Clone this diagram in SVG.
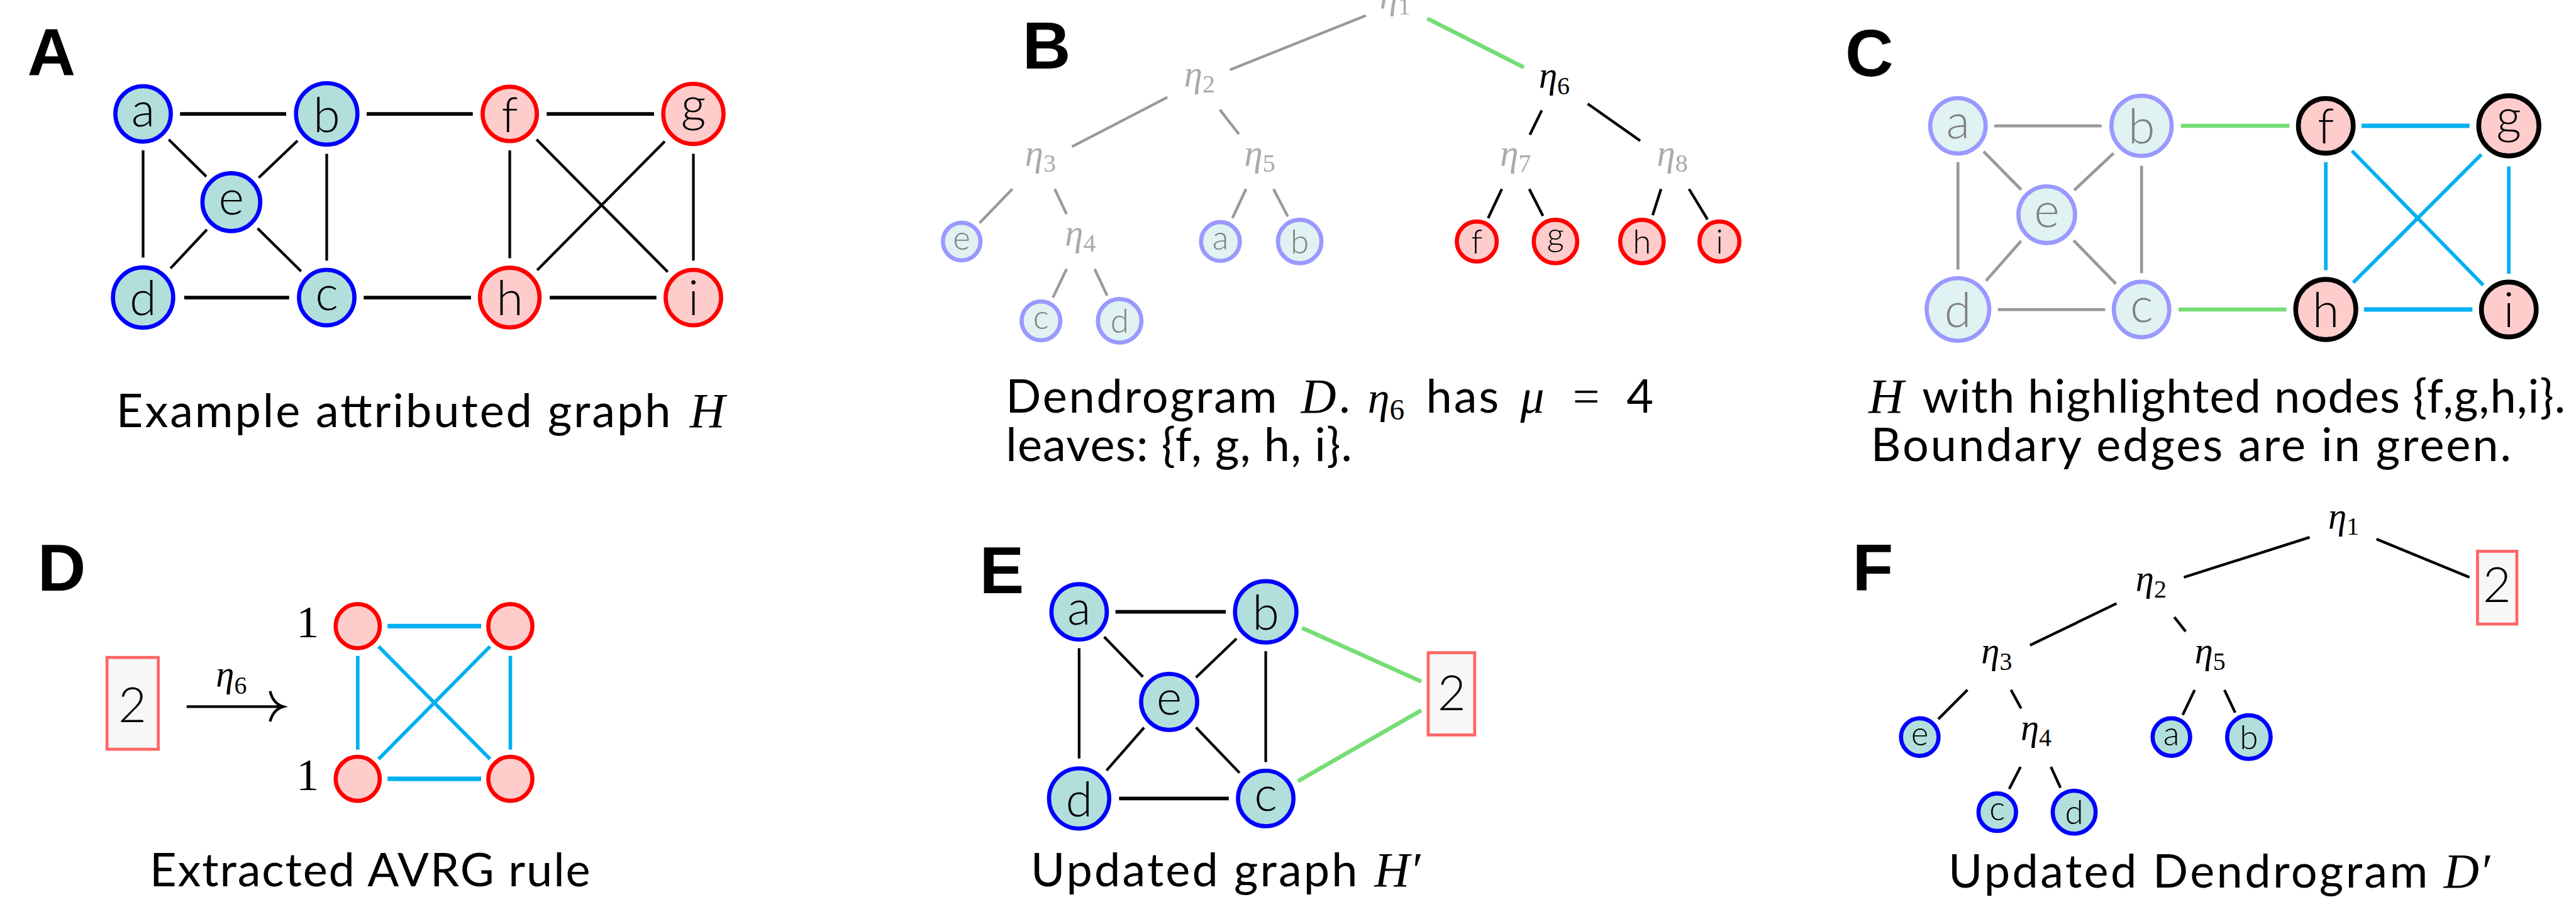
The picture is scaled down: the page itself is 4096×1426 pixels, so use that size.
<svg xmlns="http://www.w3.org/2000/svg" width="4096" height="1426" viewBox="0 0 4096 1426">
<style>
  .lbl{font-family:"Liberation Sans",Arial,sans-serif;font-weight:bold;font-size:112px;fill:#000}
  .cap{font-family:Lato,"Liberation Sans",sans-serif;font-size:78px;fill:#000}
  .mi{font-family:"Liberation Serif","Times New Roman",serif;font-style:italic;fill:#000}
  .mr{font-family:"Liberation Serif","Times New Roman",serif;font-style:normal}
  .nl{font-family:Lato,"Liberation Sans",sans-serif;font-weight:300;font-size:82px;text-anchor:middle;fill:#000}
  .sl{font-family:Lato,"Liberation Sans",sans-serif;font-weight:300;font-size:56px;text-anchor:middle;fill:#000}
  .gt{fill:#808080}
  .eta{font-family:"Liberation Serif","Times New Roman",serif;font-style:italic;font-size:62px;text-anchor:middle;fill:#000}
  .etag{fill:#aaaaaa}
  .nb{fill:#b2dfdb;stroke:#0000ff;stroke-width:7}
  .nr{fill:#ffcccc;stroke:#ff0000;stroke-width:7}
  .nlb{fill:#e0f2f1;stroke:#9999ff;stroke-width:7}
  .nk{fill:#ffcccc;stroke:#000;stroke-width:8}
  .box{fill:#f7f7f7;stroke:#ff6666;stroke-width:5}
  line{fill:none;stroke-linecap:butt}
  .k{stroke:#000;stroke-width:4.5}
  .kh{stroke:#000;stroke-width:6}
  .g{stroke:#999;stroke-width:4.5}
  .gh{stroke:#999;stroke-width:5}
  .gn{stroke:#77dd77;stroke-width:7}
  .bh{stroke:#00b0f0;stroke-width:7.5}
  .bv{stroke:#00b0f0;stroke-width:6}
</style>
<rect width="4096" height="1426" fill="#fff"/>
<g transform="scale(0.948)">

<!-- ===== Panel A: attributed graph H ===== -->
<text class="lbl" x="46" y="127">A</text>
<g id="A-edges">
  <line class="kh" x1="302" y1="191" x2="480" y2="191"/>
  <line class="kh" x1="615" y1="191" x2="793" y2="191"/>
  <line class="kh" x1="917" y1="191" x2="1097" y2="191"/>
  <line class="kh" x1="309" y1="499" x2="485" y2="499"/>
  <line class="kh" x1="610" y1="499" x2="790" y2="499"/>
  <line class="kh" x1="922" y1="499" x2="1101" y2="499"/>
  <line class="k" x1="240" y1="252" x2="240" y2="432"/>
  <line class="k" x1="548" y1="258" x2="548" y2="437"/>
  <line class="k" x1="855" y1="252" x2="855" y2="433"/>
  <line class="k" x1="1163" y1="258" x2="1163" y2="437"/>
  <line class="k" x1="283" y1="234" x2="346" y2="296"/>
  <line class="k" x1="499" y1="236" x2="434" y2="298"/>
  <line class="k" x1="347" y1="385" x2="286" y2="450"/>
  <line class="k" x1="432" y1="383" x2="505" y2="455"/>
  <line class="k" x1="900" y1="234" x2="1120" y2="456"/>
  <line class="k" x1="1115" y1="237" x2="901" y2="453"/>
</g>
<g id="A-a"><circle class="nb" cx="240" cy="191" r="46.5"/><text class="nl" x="240" y="212">a</text></g>
<g id="A-b"><circle class="nb" cx="548" cy="191" r="51.5"/><text class="nl" x="548" y="221">b</text></g>
<g id="A-f"><circle class="nr" cx="855" cy="191" r="45.5"/><text class="nl" x="855" y="221">f</text></g>
<g id="A-g"><circle class="nr" cx="1163" cy="191" r="50.5"/><text class="nl" x="1163" y="204">g</text></g>
<g id="A-e"><circle class="nb" cx="388" cy="339" r="48.5"/><text class="nl" x="388" y="360">e</text></g>
<g id="A-d"><circle class="nb" cx="240" cy="499" r="50.5"/><text class="nl" x="240" y="529">d</text></g>
<g id="A-c"><circle class="nb" cx="548" cy="499" r="46.5"/><text class="nl" x="548" y="520">c</text></g>
<g id="A-h"><circle class="nr" cx="855" cy="499" r="50"/><text class="nl" x="855" y="529">h</text></g>
<g id="A-i"><circle class="nr" cx="1163" cy="499" r="46.5"/><text class="nl" x="1163" y="529">i</text></g>
<text class="cap" x="195" y="716" textLength="930">Example attributed graph</text>
<text class="mi" x="1157" y="716" font-size="82">H</text>

<!-- ===== Panel B: dendrogram D ===== -->
<text class="lbl" x="1715" y="115">B</text>
<g id="B-edges">
  <line class="g" x1="2291" y1="26" x2="2063" y2="117"/>
  <line class="gn" x1="2394" y1="31" x2="2556" y2="113"/>
  <line class="g" x1="1958" y1="163" x2="1798" y2="246"/>
  <line class="g" x1="2046" y1="184" x2="2078" y2="225"/>
  <line class="k" x1="2586" y1="185" x2="2566" y2="226"/>
  <line class="k" x1="2663" y1="174" x2="2751" y2="236"/>
  <line class="g" x1="1698" y1="317" x2="1643" y2="374"/>
  <line class="g" x1="1769" y1="317" x2="1789" y2="359"/>
  <line class="g" x1="2090" y1="317" x2="2067" y2="366"/>
  <line class="g" x1="2136" y1="317" x2="2160" y2="363"/>
  <line class="k" x1="2519" y1="317" x2="2496" y2="366"/>
  <line class="k" x1="2565" y1="317" x2="2588" y2="362"/>
  <line class="k" x1="2786" y1="317" x2="2772" y2="361"/>
  <line class="k" x1="2833" y1="317" x2="2864" y2="368"/>
  <line class="g" x1="1789" y1="451" x2="1766" y2="499"/>
  <line class="g" x1="1836" y1="451" x2="1857" y2="496"/>
</g>
<g id="B-eta1"><text class="eta etag" x="2340" y="14">η<tspan class="mr" font-size="42" dy="10">1</tspan></text></g>
<g id="B-eta2"><text class="eta etag" x="2012" y="144">η<tspan class="mr" font-size="42" dy="11">2</tspan></text></g>
<g id="B-eta6"><text class="eta" x="2607" y="147">η<tspan class="mr" font-size="42" dy="11">6</tspan></text></g>
<g id="B-eta3"><text class="eta etag" x="1745" y="277">η<tspan class="mr" font-size="42" dy="11">3</tspan></text></g>
<g id="B-eta5"><text class="eta etag" x="2113" y="277">η<tspan class="mr" font-size="42" dy="11">5</tspan></text></g>
<g id="B-eta7"><text class="eta etag" x="2542" y="277">η<tspan class="mr" font-size="42" dy="11">7</tspan></text></g>
<g id="B-eta8"><text class="eta etag" x="2805" y="277">η<tspan class="mr" font-size="42" dy="11">8</tspan></text></g>
<g id="B-eta4"><text class="eta etag" x="1812" y="411">η<tspan class="mr" font-size="42" dy="11">4</tspan></text></g>
<g id="B-e"><circle class="nlb" cx="1613" cy="405" r="31.5"/><text class="sl gt" x="1613" y="419">e</text></g>
<g id="B-a"><circle class="nlb" cx="2047" cy="405" r="32.5"/><text class="sl gt" x="2047" y="419">a</text></g>
<g id="B-b"><circle class="nlb" cx="2180" cy="405" r="36.5"/><text class="sl gt" x="2180" y="425">b</text></g>
<g id="B-f"><circle class="nr" cx="2477" cy="405" r="33.5"/><text class="sl" x="2477" y="425">f</text></g>
<g id="B-g"><circle class="nr" cx="2609" cy="405" r="36.5"/><text class="sl" x="2609" y="414">g</text></g>
<g id="B-h"><circle class="nr" cx="2754" cy="405" r="36.5"/><text class="sl" x="2754" y="425">h</text></g>
<g id="B-i"><circle class="nr" cx="2884" cy="405" r="33.5"/><text class="sl" x="2884" y="425">i</text></g>
<g id="B-c"><circle class="nlb" cx="1746" cy="538" r="32.5"/><text class="sl gt" x="1746" y="552">c</text></g>
<g id="B-d"><circle class="nlb" cx="1878" cy="538" r="36.5"/><text class="sl gt" x="1878" y="558">d</text></g>
<text class="cap" x="1687" y="692" textLength="455">Dendrogram</text>
<text class="mi" x="2182" y="692" font-size="82">D</text>
<text class="cap" x="2246" y="692">.</text>
<text class="mi" x="2294" y="692" font-size="74">η<tspan class="mr" font-size="50" dy="12">6</tspan></text>
<text class="cap" x="2392" y="692" textLength="122">has</text>
<text class="mi" x="2550" y="692" font-size="80">μ</text>
<text class="mr" x="2638" y="692" font-size="80">=</text>
<text class="cap" x="2728" y="692">4</text>
<text class="cap" x="1687" y="773" textLength="581">leaves: {f, g, h, i}.</text>

<!-- ===== Panel C: H with highlighted nodes ===== -->
<text class="lbl" x="3095" y="128">C</text>
<g id="C-edges">
  <line class="gh" x1="3345" y1="211" x2="3525" y2="211"/>
  <line class="gn" x1="3658" y1="211" x2="3840" y2="211"/>
  <line class="bh" x1="3961" y1="211" x2="4142" y2="211"/>
  <line class="gh" x1="3351" y1="519" x2="3531" y2="519"/>
  <line class="gn" x1="3654" y1="519" x2="3835" y2="519"/>
  <line class="bh" x1="3965" y1="519" x2="4147" y2="519"/>
  <line class="gh" x1="3284" y1="272" x2="3284" y2="452"/>
  <line class="gh" x1="3592" y1="278" x2="3592" y2="458"/>
  <line class="bv" x1="3901" y1="272" x2="3901" y2="453"/>
  <line class="bv" x1="4208" y1="279" x2="4208" y2="459"/>
  <line class="gh" x1="3327" y1="254" x2="3390" y2="318"/>
  <line class="gh" x1="3545" y1="257" x2="3479" y2="319"/>
  <line class="gh" x1="3390" y1="404" x2="3331" y2="471"/>
  <line class="gh" x1="3478" y1="403" x2="3549" y2="476"/>
  <line class="bv" x1="3945" y1="253" x2="4165" y2="478"/>
  <line class="bv" x1="4162" y1="259" x2="3947" y2="474"/>
</g>
<g id="C-a"><circle class="nlb" cx="3284" cy="211" r="46.5"/><text class="nl gt" x="3284" y="232">a</text></g>
<g id="C-b"><circle class="nlb" cx="3592" cy="211" r="50.5"/><text class="nl gt" x="3592" y="241">b</text></g>
<g id="C-f"><circle class="nk" cx="3901" cy="211" r="46"/><text class="nl" x="3901" y="241">f</text></g>
<g id="C-g"><circle class="nk" cx="4208" cy="211" r="50.5"/><text class="nl" x="4208" y="224">g</text></g>
<g id="C-e"><circle class="nlb" cx="3433" cy="360" r="47.5"/><text class="nl gt" x="3433" y="381">e</text></g>
<g id="C-d"><circle class="nlb" cx="3284" cy="519" r="52.5"/><text class="nl gt" x="3284" y="549">d</text></g>
<g id="C-c"><circle class="nlb" cx="3592" cy="519" r="46.5"/><text class="nl gt" x="3592" y="540">c</text></g>
<g id="C-h"><circle class="nk" cx="3901" cy="519" r="50.5"/><text class="nl" x="3901" y="549">h</text></g>
<g id="C-i"><circle class="nk" cx="4208" cy="519" r="46"/><text class="nl" x="4208" y="549">i</text></g>
<text class="mi" x="3134" y="692" font-size="82">H</text>
<text class="cap" x="3224" y="692" textLength="1079">with highlighted nodes {f,g,h,i}.</text>
<text class="cap" x="3138" y="773" textLength="1074">Boundary edges are in green.</text>

<!-- ===== Panel D: extracted AVRG rule ===== -->
<text class="lbl" x="63" y="990">D</text>
<g id="D-box"><rect class="box" x="179.5" y="1102.5" width="86" height="154"/><text class="nl" x="222" y="1211" font-size="83">2</text></g>
<g id="D-arrow">
  <line class="k" x1="313" y1="1185" x2="472" y2="1185" stroke-width="5"/>
  <path d="M453,1159 Q458,1180 475,1185 Q458,1190 453,1210" fill="none" stroke="#000" stroke-width="4.5"/>
  <text class="eta" x="388" y="1151">η<tspan class="mr" font-size="42" dy="12">6</tspan></text>
</g>
<g id="D-edges">
  <line class="bh" x1="650" y1="1050" x2="807" y2="1050"/>
  <line class="bh" x1="650" y1="1306" x2="807" y2="1306"/>
  <line class="bv" x1="600" y1="1100" x2="600" y2="1257"/>
  <line class="bv" x1="856" y1="1100" x2="856" y2="1257"/>
  <line class="bv" x1="635" y1="1084" x2="822" y2="1273"/>
  <line class="bv" x1="822" y1="1084" x2="635" y2="1273"/>
</g>
<g id="D-n1"><circle class="nr" cx="600" cy="1050" r="37" stroke-width="8"/><text class="mr" x="516" y="1069" font-size="76" text-anchor="middle">1</text></g>
<g id="D-n2"><circle class="nr" cx="856" cy="1050" r="37" stroke-width="8"/></g>
<g id="D-n3"><circle class="nr" cx="600" cy="1306" r="37" stroke-width="8"/><text class="mr" x="516" y="1325" font-size="76" text-anchor="middle">1</text></g>
<g id="D-n4"><circle class="nr" cx="856" cy="1306" r="37" stroke-width="8"/></g>
<text class="cap" x="251" y="1486" textLength="739">Extracted AVRG rule</text>

<!-- ===== Panel E: updated graph H' ===== -->
<text class="lbl" x="1643" y="995">E</text>
<g id="E-edges">
  <line class="kh" x1="1871" y1="1026" x2="2056" y2="1026"/>
  <line class="kh" x1="1877" y1="1339" x2="2061" y2="1339"/>
  <line class="k" x1="1810" y1="1087" x2="1810" y2="1272"/>
  <line class="k" x1="2123" y1="1092" x2="2123" y2="1278"/>
  <line class="k" x1="1852" y1="1068" x2="1917" y2="1135"/>
  <line class="k" x1="2074" y1="1071" x2="2006" y2="1136"/>
  <line class="k" x1="1919" y1="1220" x2="1856" y2="1292"/>
  <line class="k" x1="2006" y1="1220" x2="2079" y2="1296"/>
  <line class="gn" x1="2184" y1="1053" x2="2384" y2="1143" stroke-width="6"/>
  <line class="gn" x1="2177" y1="1310" x2="2384" y2="1191" stroke-width="6"/>
</g>
<g id="E-a"><circle class="nb" cx="1810" cy="1026" r="46.5"/><text class="nl" x="1810" y="1047">a</text></g>
<g id="E-b"><circle class="nb" cx="2123" cy="1026" r="51.5"/><text class="nl" x="2123" y="1056">b</text></g>
<g id="E-e"><circle class="nb" cx="1961" cy="1177" r="47"/><text class="nl" x="1961" y="1198">e</text></g>
<g id="E-d"><circle class="nb" cx="1810" cy="1339" r="50.5"/><text class="nl" x="1810" y="1369">d</text></g>
<g id="E-c"><circle class="nb" cx="2123" cy="1339" r="46.5"/><text class="nl" x="2123" y="1360">c</text></g>
<g id="E-box"><rect class="box" x="2395.5" y="1094.5" width="78" height="138"/><text class="nl" x="2435" y="1191" font-size="75">2</text></g>
<text class="cap" x="1729" y="1486" textLength="548">Updated graph</text>
<text class="mi" x="2305" y="1486" font-size="82">H′</text>

<!-- ===== Panel F: updated dendrogram D' ===== -->
<text class="lbl" x="3107" y="990">F</text>
<g id="F-edges">
  <line class="k" x1="3874" y1="901" x2="3663" y2="968" stroke-width="5"/>
  <line class="k" x1="3986" y1="904" x2="4142" y2="968" stroke-width="5"/>
  <line class="k" x1="3550" y1="1012" x2="3405" y2="1082" stroke-width="5"/>
  <line class="k" x1="3647" y1="1035" x2="3666" y2="1059" stroke-width="5"/>
  <line class="k" x1="3300" y1="1157" x2="3251" y2="1206" stroke-width="5"/>
  <line class="k" x1="3373" y1="1157" x2="3390" y2="1188" stroke-width="5"/>
  <line class="k" x1="3681" y1="1157" x2="3661" y2="1199" stroke-width="5"/>
  <line class="k" x1="3731" y1="1157" x2="3749" y2="1195" stroke-width="5"/>
  <line class="k" x1="3389" y1="1286" x2="3370" y2="1323" stroke-width="5"/>
  <line class="k" x1="3440" y1="1286" x2="3456" y2="1321" stroke-width="5"/>
</g>
<g id="F-eta1"><text class="eta" x="3931" y="886">η<tspan class="mr" font-size="42" dy="11">1</tspan></text></g>
<g id="F-eta2"><text class="eta" x="3608" y="991">η<tspan class="mr" font-size="42" dy="11">2</tspan></text></g>
<g id="F-eta3"><text class="eta" x="3349" y="1112">η<tspan class="mr" font-size="42" dy="11">3</tspan></text></g>
<g id="F-eta5"><text class="eta" x="3707" y="1112">η<tspan class="mr" font-size="42" dy="11">5</tspan></text></g>
<g id="F-eta4"><text class="eta" x="3415" y="1240">η<tspan class="mr" font-size="42" dy="11">4</tspan></text></g>
<g id="F-box"><rect class="box" x="4155.5" y="924.5" width="66" height="122"/><text class="nl" x="4188" y="1010" font-size="67">2</text></g>
<g id="F-e"><circle class="nb" cx="3220" cy="1236" r="31.5"/><text class="sl" x="3220" y="1250">e</text></g>
<g id="F-a"><circle class="nb" cx="3642" cy="1236" r="31.5"/><text class="sl" x="3642" y="1250">a</text></g>
<g id="F-b"><circle class="nb" cx="3772" cy="1236" r="36.5"/><text class="sl" x="3772" y="1256">b</text></g>
<g id="F-c"><circle class="nb" cx="3350" cy="1362" r="31.5"/><text class="sl" x="3350" y="1376">c</text></g>
<g id="F-d"><circle class="nb" cx="3479" cy="1362" r="36"/><text class="sl" x="3479" y="1382">d</text></g>
<text class="cap" x="3268" y="1488" textLength="804">Updated Dendrogram</text>
<text class="mi" x="4099" y="1488" font-size="82">D′</text>

</g>
</svg>
